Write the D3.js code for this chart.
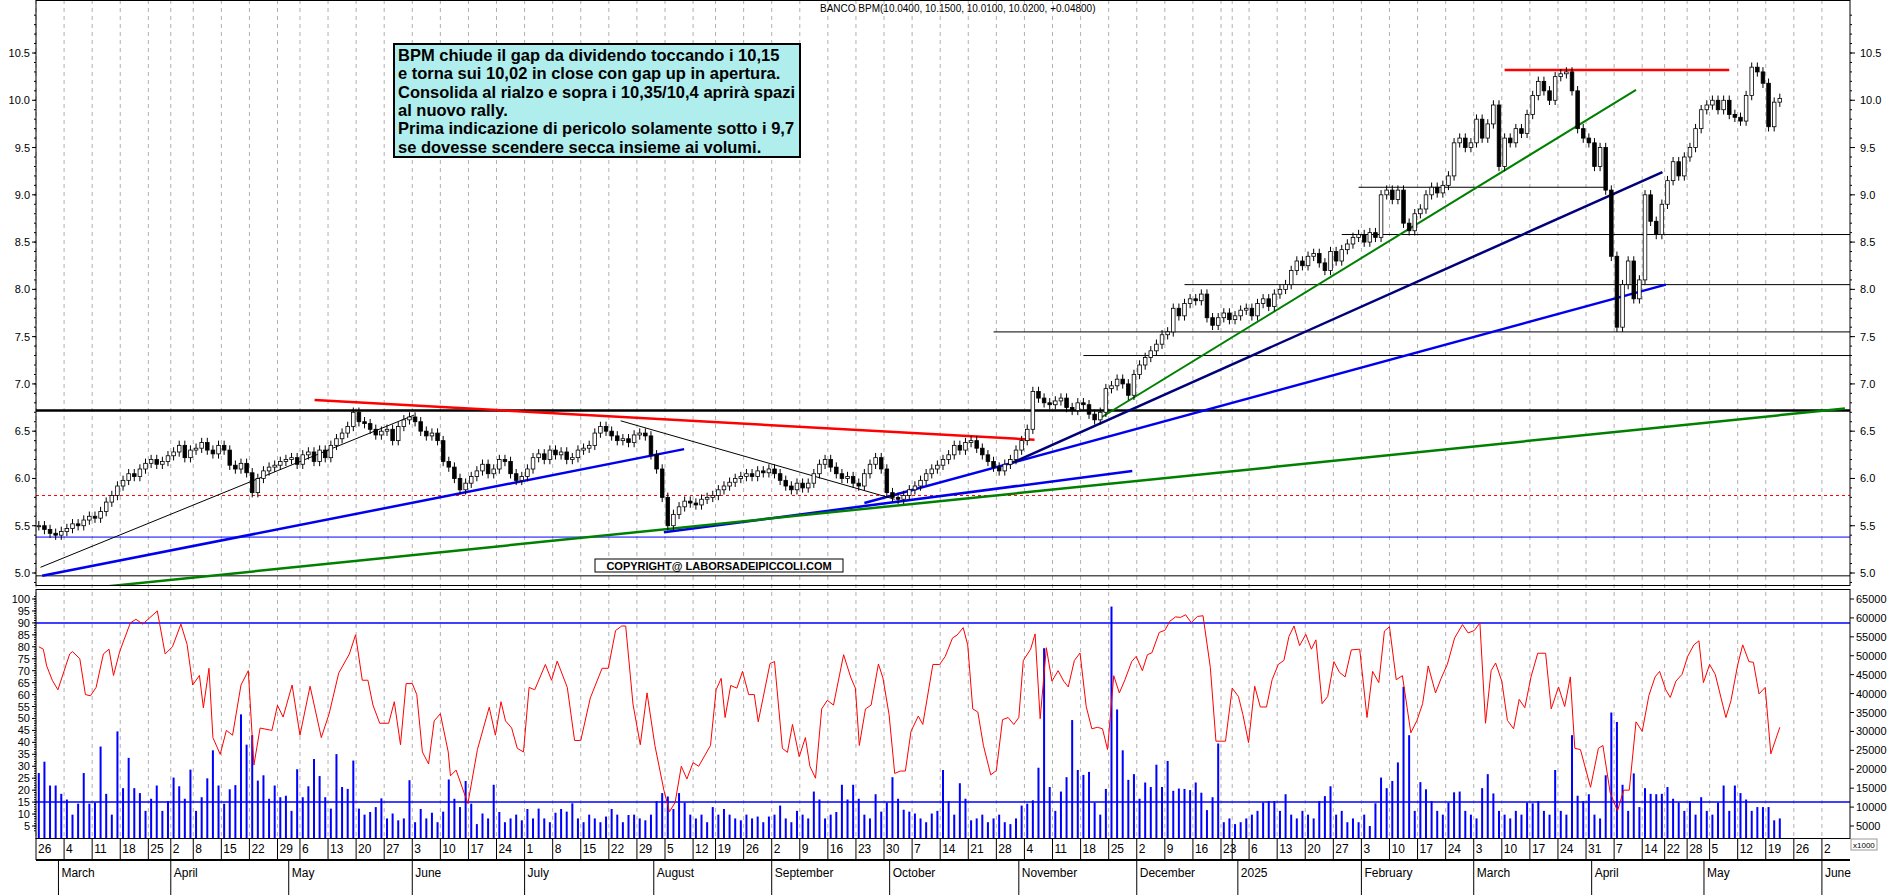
<!DOCTYPE html>
<html><head><meta charset="utf-8">
<script src="https://cdn.jsdelivr.net/npm/d3@7"></script>
<style>body{margin:0;background:#fff}svg{display:block;font-family:"Liberation Sans",Arial,sans-serif}</style>
</head><body><div id="chart"></div>
<script>
// closes per trading day, 26 Feb 2024 .. 21 May 2025
const closes = [
 5.50,5.46,5.42,5.40,5.44, 5.47,5.52,5.50,5.56,5.60, 5.58,5.65,5.75,5.82,5.92, 5.98,6.05,6.02,6.10,6.16,
 6.20,6.15,6.18,6.24, 6.28,6.35,6.22,6.30, 6.32,6.38,6.30,6.26,6.35, 6.30,6.14,6.10,6.16,6.06,
 5.85,6.00,6.08,6.12,6.14, 6.18,6.20,6.22,6.15, 6.25,6.28,6.18,6.30,6.22, 6.35,6.42,6.48,6.55,6.70,
 6.60,6.58,6.52,6.46,6.50, 6.52,6.40,6.55,6.62,6.65, 6.60,6.50,6.45,6.48,6.40, 6.18,6.12,6.00,5.88,5.95,
 6.02,6.08,6.15,6.05,6.10, 6.20,6.18,6.05,5.98,6.02, 6.10,6.22,6.26,6.20,6.30, 6.25,6.28,6.20,6.22,6.30,
 6.32,6.35,6.48,6.55,6.50, 6.45,6.40,6.42,6.38,6.46, 6.48,6.45,6.25,6.10,5.80, 5.50,5.62,5.70,5.76,5.74,
 5.72,5.78,5.80,5.82, 5.88,5.92,5.96,6.00,6.02, 6.05,6.02,6.08,6.06,6.10, 6.05,5.98,5.92,5.88,5.95,
 5.90,5.95,6.05,6.15,6.20, 6.12,6.05,6.00,6.02,5.95, 5.92,6.05,6.15,6.22,6.10, 5.85,5.80,5.78,5.82,5.88,
 5.92,5.98,6.05,6.10,6.14, 6.20,6.25,6.35,6.30,6.38, 6.40,6.32,6.25,6.18,6.12, 6.08,6.15,6.20,6.30,6.40,
 6.52,6.92,6.85,6.80,6.78, 6.82,6.85,6.75,6.72,6.80, 6.78,6.68,6.62,6.70,6.95, 6.98,7.05,7.00,6.88,7.10,
 7.20,7.28,7.35,7.42,7.52, 7.55,7.80,7.72,7.85,7.90, 7.88,7.95,7.70,7.62,7.70, 7.75,7.68, 7.72,7.78,7.80,
 7.72,7.85,7.90,7.82,7.95, 8.00,8.05,8.20,8.30,8.25, 8.35,8.38,8.28,8.20,8.40, 8.30,8.42,8.48,8.55,8.58,
 8.50,8.60,8.55,9.00,9.05, 8.95,9.05,8.70,8.62,8.80, 8.85,9.00,9.08,9.02,9.10, 9.20,9.55,9.60,9.50,9.55,
 9.80,9.60,9.75,9.95,9.30, 9.60,9.55,9.70,9.65,9.85, 10.05,10.20,10.10,10.00,10.25, 10.28,10.30,10.10,9.70,9.60,
 9.55,9.30,9.50,9.05,8.35, 7.60,8.05,8.30,7.90,8.10, 9.00,8.72,8.58,8.90, 9.15,9.35,9.20,9.40,
 9.50,9.70,9.90,9.95, 10.00,9.90,10.00,9.85,9.82, 9.78,10.05,10.35,10.30,10.18, 9.72,9.98,10.02
];
// volume, thousands
const volumes = [
 19,22,15.7,15.7,13.5,12,8,10.9,19,10.9, 11.2,26,13.5,8,30,15,23,15,13.7,9,
 12.2,15.7,9,11.6,17.8,15.5,12.2,19.9,9,12.6, 17.6,25,15.7,10.9,14.7,15.8,34.5,26.5,29,17,
 18.4,12.2,15.7,12.6,13,9,20,12.6,15.5,22.7, 18.2,12.6,9.6,24,15.3,14.8,22.3,9.6,8,8.7,
 10,12.3,7,8.3,6.5,7,17.1,6,9.5,7, 8.5,6,8.8,17.3,12.2,10,16.9,10.9,5.5,8.3,
 7,15.9,8.7,6,7,8,6.5,9.5,7,9.6, 7,6,8.5,9.5,8.8,11,7,6,8,7,
 6,7.5,9.5,8,6,7.9,8,7,6.5,8, 11.6,13.7,12.8,9.5,13.7,11.2,8,7,8,6,
 10,8,9.5,8,7,6.5,8,7,7.5,6, 7.5,8,10.4,7,6,9,8,7,14.1,12,
 7,8,8.7,15.9,12,15.9,12.2,8,7,13.4, 8.8,11.2,17.9,12.2,9.3,8.8,8.3,7,6,8.3,
 9,19.8,11.6,8,16.3,12.2,6.5,7,8,6, 7,8,6,5.5,7,10.4,10.9,11.8,20.4,52,
 15.3,9,14.1,17.9,33,19.8,18.5,19.3,11.2,8, 14.8,63,35.8,25,17.2,18.7,12.2,16.5,15.3,21.2,
 15.3,22.2,14.3,14.9,14.8,14.5,16.5,13.8,9.2,12.6, 26.8,6,7,5.5,6,7,8,9,11.2,11.6,
 11.6,9,13.4,8,7,9,8,7,11.6,12.9, 15.5,8,9,6,7,6,8,5,11,17.8,
 15,16.9,21.8,41.8,29,9,16.6,14.7,11.6,9, 8,11.2,13.9,14.1,9,8,7,15,18.7,13.6,
 9,8,7,9,8,11.2,11,11.6,9,8, 19.8,9,8,29,13,11.6,13.4,8,7,18.4,
 35,32.5,15.9,9,18.9,10,15,13.5,13.4,13.5, 15.3,12.2,11.2,9,11.6,8,12.6,9,8,11.2,
 15.7,9,15.7,13.7,12,9,10,10,10,6.5,7
];
// oscillator read points [trading-day index, value]
const osc = [
 [0,80],[0.8,79],[1.4,72],[2.4,66],[3.4,62],[5.5,77],[6,78],[7.3,75],[8.3,60],[9.2,59.5],[10.2,63],[11.5,77],[12.5,79],[13.3,68],[14.4,78],
 [16.3,90],[17.3,91.5],[18.5,89.5],[21.1,95],[22.5,77],[23.8,80],[25.3,89.5],[26.4,81],[27.4,64],[28.6,68],[29.3,54.5],[30.3,71],[31,42],
 [32.3,35],[33.4,45],[34.5,43],[36,64],[37.3,70],[38.3,30.5],[39.4,46],[41.5,45],[42.5,55.5],[43.5,50.6],[45.1,64],[46.5,43],[48.3,63.5],
 [50.3,42],[51.7,52],[53.4,69],[55.3,77],[56.4,85],[57.6,66],[58.6,66],[59.5,55.6],[60.7,48],[62.3,48],[63.3,57],[64.4,39],[65.4,64.6],
 [66.5,64.6],[67.3,60],[68.3,36],[69.4,31],[70.4,49],[71.5,52],[72.9,36],[73.3,26],[74.3,28.4],[76.4,14.4],[78.1,37],[80.2,54.7],[81.3,43],
 [82.3,57],[83.1,49],[84.2,46],[85.2,37.5],[86.3,36],[87.3,63],[88.3,62],[90.2,72.6],[91.3,66],[92.3,74],[94.1,63],[95.4,40.8],[96.5,40.8],
 [98.2,58.6],[100.3,71],[101.4,71],[102.7,86.8],[103.8,88.7],[104.5,88.7],[105.8,56],[107.1,39],[108.3,60.7],[109.7,38.7],[111.3,20],
 [112.3,11],[113.3,14.8],[114.4,30],[115.4,24.7],[116.5,31.5],[117.5,30],[119.6,38.7],[120.6,62],[121.5,66.8],[122.2,50.4],[123.2,63.8],
 [124.3,62.7],[125.3,69.7],[126.4,60],[127.4,60],[128.1,48.6],[130.2,73],[131,73.8],[132.4,37.5],[133.3,35.8],[134.2,47.5],[135.4,34],
 [136.5,42],[137.3,30],[138.3,25],[139.4,54],[140.4,57.6],[141.5,55.6],[143.3,76.7],[144.6,67],[145.4,62.7],[146.1,38.7],[147.2,54],
 [148.2,55.6],[149.5,72.8],[150.3,67],[151.4,51.6],[152.4,27],[153.4,28],[154.3,28],[155.3,44.6],[156.6,51],[157.4,47.5],[159.2,72.6],
 [160.4,72.6],[161.4,76],[162.7,83.7],[163.5,84.9],[164.6,88],[165.4,80.8],[166.3,54],[167.2,52.7],[168.2,38.7],[169.5,26.4],[170.5,28.2],
 [171.6,49.5],[172.6,50.4],[173.6,47.5],[174.5,50.4],[175.3,74.3],[176.6,79],[177.4,85.4],[178.3,49.9],[179.4,79.6],[180.4,65.6],[181.5,70],
 [182.5,65.6],[183.3,63.2],[184.4,74.3],[185.4,77.4],[186.5,55],[187.5,45.7],[188.5,46.3],[189.4,45.7],[190.3,37],[191.4,67.9],[192.4,60.7],
 [193.4,66.2],[194.6,73.8],[195.4,76],[196.5,70],[197.4,76.7],[198.2,77.5],[199.5,86],[200.5,86.9],[201.4,90.7],[202.4,92.5],[203.3,92.3],
 [204.2,93.4],[205.2,90.1],[206.3,92.7],[207.3,93],[208.6,71.4],[209.6,40.5],[211.3,40.5],[212.5,62.7],[213.6,59.2],[214.4,51.6],[215.4,39.9],
 [216.5,63.5],[217.5,54.8],[218.6,54.8],[219.6,66.2],[220.7,72.6],[221.7,74.3],[222.6,84.3],[223.5,88.7],[224.5,80.5],[225.6,85.2],[226.6,79],
 [227.4,82.9],[228.5,56.2],[229.5,59.2],[230.6,73.8],[231.6,69.3],[232.6,67.4],[233.7,78.7],[235.2,79],[236.5,50.4],[237.5,69.7],[238.6,65],
 [239.6,86.6],[240.5,88.4],[241.7,66.2],[242.8,67.9],[244.3,44],[245.4,49.2],[246.4,56.2],[247.4,72],[248.7,60.7],[249.7,66.8],[250.8,72.6],
 [252.1,83.7],[253.5,89.3],[254.5,85.8],[255.6,86.8],[256.6,90],[257.6,48],[258.6,70],[259.4,73.2],[260.5,65.6],[261.5,49.2],[262.6,45.7],
 [263.6,58],[264.6,54.5],[265.7,67.4],[266.9,77.3],[268.3,77.3],[269.3,54],[270.6,63.2],[271.7,55],[272.7,67.4],[273.5,37.5],[274.5,37],
 [276.3,21.2],[277.7,37.5],[278.5,38.7],[279.8,18.9],[281.1,11.3],[282.2,20],[283.2,20],[284.4,48.6],[285.5,44.6],[286.7,59.7],[287.8,67.4],
 [288.6,69.7],[289.7,62],[290.5,58.8],[291.5,65.6],[292.6,68.5],[293.6,76],[294.7,80.8],[295.6,82.5],[296.4,65],[297.5,72.6],[298.5,68.5],
 [300.4,50.4],[301.3,57.4],[302.5,72.4],[303.4,80.8],[304.5,73.8],[305.3,73.5],[306.3,60.3],[307.4,63],[308.4,35.2],[310,46.3]
];
const holidays = ["2024-03-29","2024-04-01","2024-05-01","2024-08-15","2024-12-24","2024-12-25","2024-12-26","2024-12-31",
  "2025-01-01","2025-04-18","2025-04-21","2025-05-01"];
const monthNames = ["2025","February","March","April","May","June","July","August","September","October","November","December"];
const priceTicks = [5.0,5.5,6.0,6.5,7.0,7.5,8.0,8.5,9.0,9.5,10.0,10.5];
const oscTicks = [5,10,15,20,25,30,35,40,45,50,55,60,65,70,75,80,85,90,95,100];
const volTicks = [5000,10000,15000,20000,25000,30000,35000,40000,45000,50000,55000,60000,65000];
const levels = [ // [price, fromIdx, toIdx, color, width, dash]
  [6.72,-1,330,"#000",2.5,null],[4.97,-1,330,"#000",1,null],[5.38,-1,330,"#0000ff",1,null],[5.82,-1,330,"#ff0000",1,"3,3"],
  [9.08,235,279,"#000",1,null],[8.58,232,330,"#000",1,null],[8.05,204,330,"#000",1,null],[7.55,170,330,"#000",1,null],
  [7.30,186,330,"#000",1,null],[10.32,261,301,"#ff0000",2.5,null]];
const trends = [ // [idx1, price1, idx2, price2, color, width]
  [0.6,4.97,114.9,6.31,"#0000ee",2.5],[111.3,5.43,194.7,6.08,"#0000ee",2.5],[147,5.74,289.7,8.05,"#0000ee",2.5],
  [172.7,6.15,289.1,9.24,"#00007a",2.5],[189.3,6.65,284.4,10.11,"#008000",2],[12.4,4.86,321.6,6.74,"#008000",2.5],
  [49.1,6.83,177.3,6.41,"#ff0000",2.5],[0.3,5.06,66.8,6.67,"#000",1],[103.6,6.61,152.4,5.78,"#000",1]];

// trading calendar up to early June 2025
const days = [];
for (let d = new Date(Date.UTC(2024,1,26)); d <= new Date(Date.UTC(2025,5,6)); d.setUTCDate(d.getUTCDate()+1)) {
  const wd = d.getUTCDay(), s = d.toISOString().slice(0,10);
  if (wd > 0 && wd < 6 && !holidays.includes(s)) days.push(new Date(d));
}

const W = 1890, H = 895, L = 36, R = 1850;
const pTop = 0, pBot = 585, iTop = 589, iBot = 838, dRow = 860;
const svg = d3.select("#chart").append("svg").attr("width", W).attr("height", H);

const x = d3.scaleBand().domain(d3.range(days.length)).range([L, R]);
const xi = d3.scaleLinear().domain([0, days.length-1]).range([x(0)+x.bandwidth()/2, x(days.length-1)+x.bandwidth()/2]);
const y = d3.scaleLinear().domain([5.0,10.5]).range([573,53]);
const yo = d3.scaleLinear().domain([5,100]).range([826,599]);
const yv = d3.scaleLinear().domain([5000,65000]).range([826,599]);

const defs = svg.append("defs");
defs.append("clipPath").attr("id","cp").append("rect").attr("x",L).attr("y",pTop).attr("width",R-L).attr("height",pBot-pTop);
defs.append("clipPath").attr("id","ci").append("rect").attr("x",L).attr("y",iTop).attr("width",R-L).attr("height",iBot-iTop);

// weekly ticks and month starts
const weekStarts = [], monthStarts = [];
days.forEach((d,i) => {
  if (i === 0 || d.getUTCDay() <= days[i-1].getUTCDay() || (d - days[i-1]) >= 7*864e5) weekStarts.push(i);
  if (i > 0 && d.getUTCMonth() !== days[i-1].getUTCMonth()) monthStarts.push(i);
});

// grid
const grid = svg.append("g");
weekStarts.forEach(i => {
  grid.append("line").attr("x1",x(i)).attr("x2",x(i)).attr("y1",pTop).attr("y2",iBot)
    .attr("stroke","#b0b0b0").attr("stroke-dasharray","4,4");
});

// price panel
const gp = svg.append("g").attr("clip-path","url(#cp)");
levels.forEach(l => gp.append("line").attr("x1",Math.max(L,xi(l[1]))).attr("x2",Math.min(R,xi(l[2])))
  .attr("y1",y(l[0])).attr("y2",y(l[0])).attr("stroke",l[3]).attr("stroke-width",l[4]).attr("stroke-dasharray",l[5]));
trends.forEach(t => gp.append("line").attr("x1",xi(t[0])).attr("y1",y(t[1])).attr("x2",xi(t[2])).attr("y2",y(t[3]))
  .attr("stroke",t[4]).attr("stroke-width",t[5]));

const candles = closes.map((c,i) => {
  const o = i ? closes[i-1] : c;
  return {i, o, c, h: Math.max(o,c)+0.05, l: Math.min(o,c)-0.05};
});
const cw = 3.6;
const cg = gp.selectAll(".candle").data(candles).enter().append("g");
cg.append("line").attr("x1",d=>xi(d.i)).attr("x2",d=>xi(d.i)).attr("y1",d=>y(d.h)).attr("y2",d=>y(d.l)).attr("stroke","#000");
cg.append("rect").attr("x",d=>xi(d.i)-cw/2).attr("width",cw)
  .attr("y",d=>y(Math.max(d.o,d.c))).attr("height",d=>Math.max(1,Math.abs(y(d.o)-y(d.c))))
  .attr("fill",d=>d.c>=d.o?"#fff":"#000").attr("stroke","#000").attr("stroke-width",0.8);

// indicator panel
const gi = svg.append("g").attr("clip-path","url(#ci)");
gi.selectAll(".vol").data(volumes).enter().append("rect")
  .attr("x",(d,i)=>xi(i)-1).attr("width",2).attr("y",d=>yv(d*1000)).attr("height",d=>iBot-yv(d*1000)).attr("fill","#0000ff");
[90,15].forEach(v => gi.append("line").attr("x1",L).attr("x2",R).attr("y1",yo(v)).attr("y2",yo(v)).attr("stroke","#0000ff").attr("stroke-width",1.5));
gi.append("path").datum(osc).attr("fill","none").attr("stroke","#ff0000").attr("stroke-width",1)
  .attr("d", d3.line().x(d=>xi(d[0])).y(d=>yo(d[1])));

// frames
[[pTop,pBot],[iTop,iBot]].forEach(p => svg.append("rect").attr("x",L).attr("y",p[0]+0.5).attr("width",R-L).attr("height",p[1]-p[0])
  .attr("fill","none").attr("stroke","#000"));

// axes
const fs = "11px";
function sideAxis(scale, ticks, fmt, minor) {
  ticks.forEach(t => {
    svg.append("text").attr("x",L-6).attr("y",scale(t)+4).attr("text-anchor","end").style("font-size",fs).text(fmt(t));
    svg.append("line").attr("x1",L-4).attr("x2",L).attr("y1",scale(t)).attr("y2",scale(t)).attr("stroke","#000");
  });
  minor.forEach(t => svg.append("line").attr("x1",L-2).attr("x2",L).attr("y1",scale(t)).attr("y2",scale(t)).attr("stroke","#000"));
}
sideAxis(y, priceTicks, d3.format(".1f"), d3.range(4.9,11.0,0.1).map(v=>+v.toFixed(1)));
sideAxis(yo, oscTicks, d=>d, d3.range(3,102,1));
priceTicks.forEach(t => {
  svg.append("text").attr("x",R+10).attr("y",y(t)+4).style("font-size",fs).text(d3.format(".1f")(t));
  svg.append("line").attr("x1",R).attr("x2",R+5).attr("y1",y(t)).attr("y2",y(t)).attr("stroke","#000");
});
d3.range(4.9,11.0,0.1).forEach(t => svg.append("line").attr("x1",R).attr("x2",R+2).attr("y1",y(t)).attr("y2",y(t)).attr("stroke","#000"));
volTicks.forEach(t => {
  svg.append("text").attr("x",R+6).attr("y",yv(t)+4).style("font-size",fs).text(t);
  svg.append("line").attr("x1",R).attr("x2",R+4).attr("y1",yv(t)).attr("y2",yv(t)).attr("stroke","#000");
});
svg.append("rect").attr("x",R+1).attr("y",iBot+1).attr("width",26).attr("height",11).attr("fill","#fff").attr("stroke","#999");
svg.append("text").attr("x",R+3).attr("y",iBot+10).style("font-size","8px").text("x1000");

// date rows
svg.append("line").attr("x1",L).attr("x2",R).attr("y1",dRow).attr("y2",dRow).attr("stroke","#000").attr("stroke-width",2);
let lastLabel = -100;
weekStarts.forEach(i => {
  svg.append("line").attr("x1",x(i)).attr("x2",x(i)).attr("y1",iBot).attr("y2",dRow).attr("stroke","#000");
  if (x(i) - lastLabel < 16) return;
  lastLabel = x(i);
  svg.append("text").attr("x",x(i)+2).attr("y",dRow-7).style("font-size","12px").text(days[i].getUTCDate());
});
monthStarts.forEach(i => {
  svg.append("line").attr("x1",x(i)).attr("x2",x(i)).attr("y1",dRow).attr("y2",H).attr("stroke","#000");
  svg.append("text").attr("x",x(i)+3).attr("y",dRow+17).style("font-size","12px").text(monthNames[days[i].getUTCMonth()]);
});

// header
svg.append("text").attr("x",820).attr("y",12).style("font-size","10px")
  .text("BANCO BPM(10.0400, 10.1500, 10.0100, 10.0200, +0.04800)");

// comment box
const note = ["BPM  chiude il gap da dividendo toccando i 10,15","e torna sui 10,02 in close con gap up in apertura.",
  "Consolida al rialzo e sopra i 10,35/10,4 aprirà spazi","al nuovo rally.",
  "Prima indicazione di pericolo solamente sotto i 9,7","se dovesse scendere secca insieme ai volumi."];
svg.append("rect").attr("x",394).attr("y",44).attr("width",406).attr("height",113).attr("fill","#b0eeee").attr("stroke","#000").attr("stroke-width",2);
note.forEach((t,k) => {
  const tx = svg.append("text").attr("x",398).attr("y",61+k*18.3).style("font-size","16.5px").style("font-weight","bold").text(t);
  if (tx.node().getComputedTextLength() > 398) tx.attr("textLength",398).attr("lengthAdjust","spacingAndGlyphs");
});

// copyright
svg.append("rect").attr("x",595).attr("y",559).attr("width",248).attr("height",13).attr("fill","#fff").attr("stroke","#000");
svg.append("text").attr("x",719).attr("y",570).attr("text-anchor","middle").style("font-size","11px").style("font-weight","bold")
  .text("COPYRIGHT@ LABORSADEIPICCOLI.COM");
</script></body></html>
